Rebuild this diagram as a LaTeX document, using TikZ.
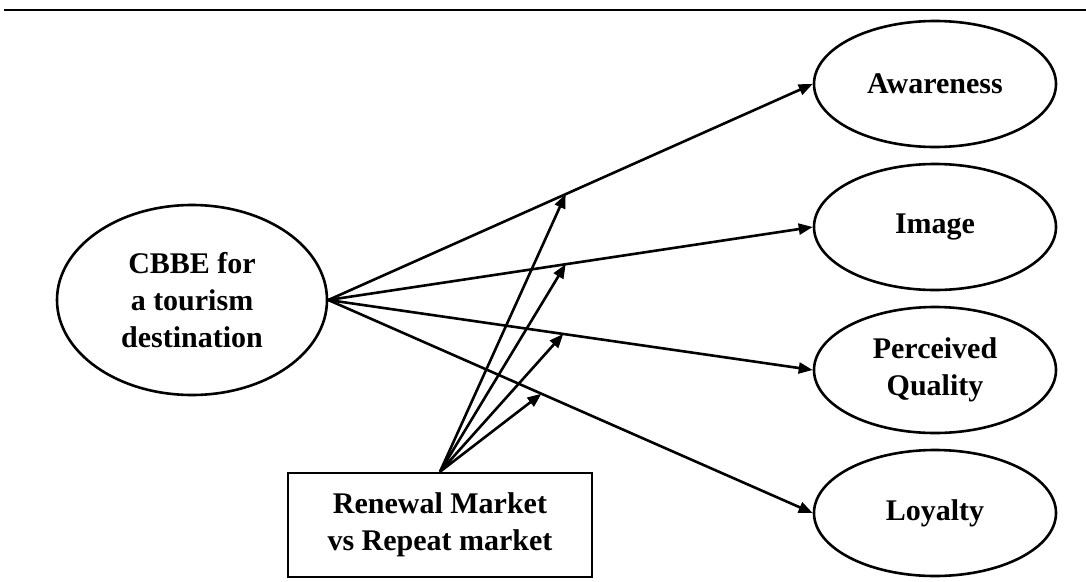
\documentclass[tikz,border=0pt]{standalone}
\usepackage{fontspec}
\setmainfont{Liberation Serif}
\usetikzlibrary{arrows.meta,shapes.geometric,calc}
\begin{document}
\begin{tikzpicture}[x=1pt,y=-1pt,
  line width=2.6pt,
  lbl/.style={font=\fontsize{30}{37}\selectfont\bfseries,align=center},
  dim/.style={ellipse,draw,inner sep=0pt,lbl},
  src/.style={dim,minimum width=270pt,minimum height=190pt},
  dimsmall/.style={dim,minimum width=242pt,minimum height=126pt},
  modbox/.style={rectangle,draw,inner sep=0pt,lbl,minimum width=304pt,minimum height=104pt},
  link/.style={-{Triangle[length=14pt,width=11pt]}}]
  \useasboundingbox (0,0) rectangle (1086,581);
  % header rule
  \coordinate (ruleL) at (4,10);
  \coordinate (ruleR) at (1086,10);
  \draw (ruleL) -- (ruleR);
  % constructs
  \node[src] (cbbe) at (192,300) {CBBE for\\a tourism\\destination};
  \node[dimsmall] (aw) at (935,84) {Awareness};
  \node[dimsmall] (im) at (935,227) {Image};
  \node[dimsmall] (pq) at (935,370) {Perceived\\Quality};
  \node[dimsmall] (lo) at (935,513) {Loyalty};
  \node[modbox] (mk) at (440,525) {Renewal Market\\vs Repeat market};
  % main effects
  \draw[link] (cbbe.east) -- coordinate[pos=0.49] (mAw) (aw.west);
  \draw[link] (cbbe.east) -- coordinate[pos=0.49] (mIm) (im.west);
  \draw[link] (cbbe.east) -- coordinate[pos=0.485] (mPq) (pq.west);
  \draw[link] (cbbe.east) -- coordinate[pos=0.44] (mLo) (lo.west);
  % moderating effects
  \draw[link] (mk.north) -- (mAw);
  \draw[link] (mk.north) -- (mIm);
  \draw[link] (mk.north) -- (mPq);
  \draw[link] (mk.north) -- (mLo);
\end{tikzpicture}
\end{document}
